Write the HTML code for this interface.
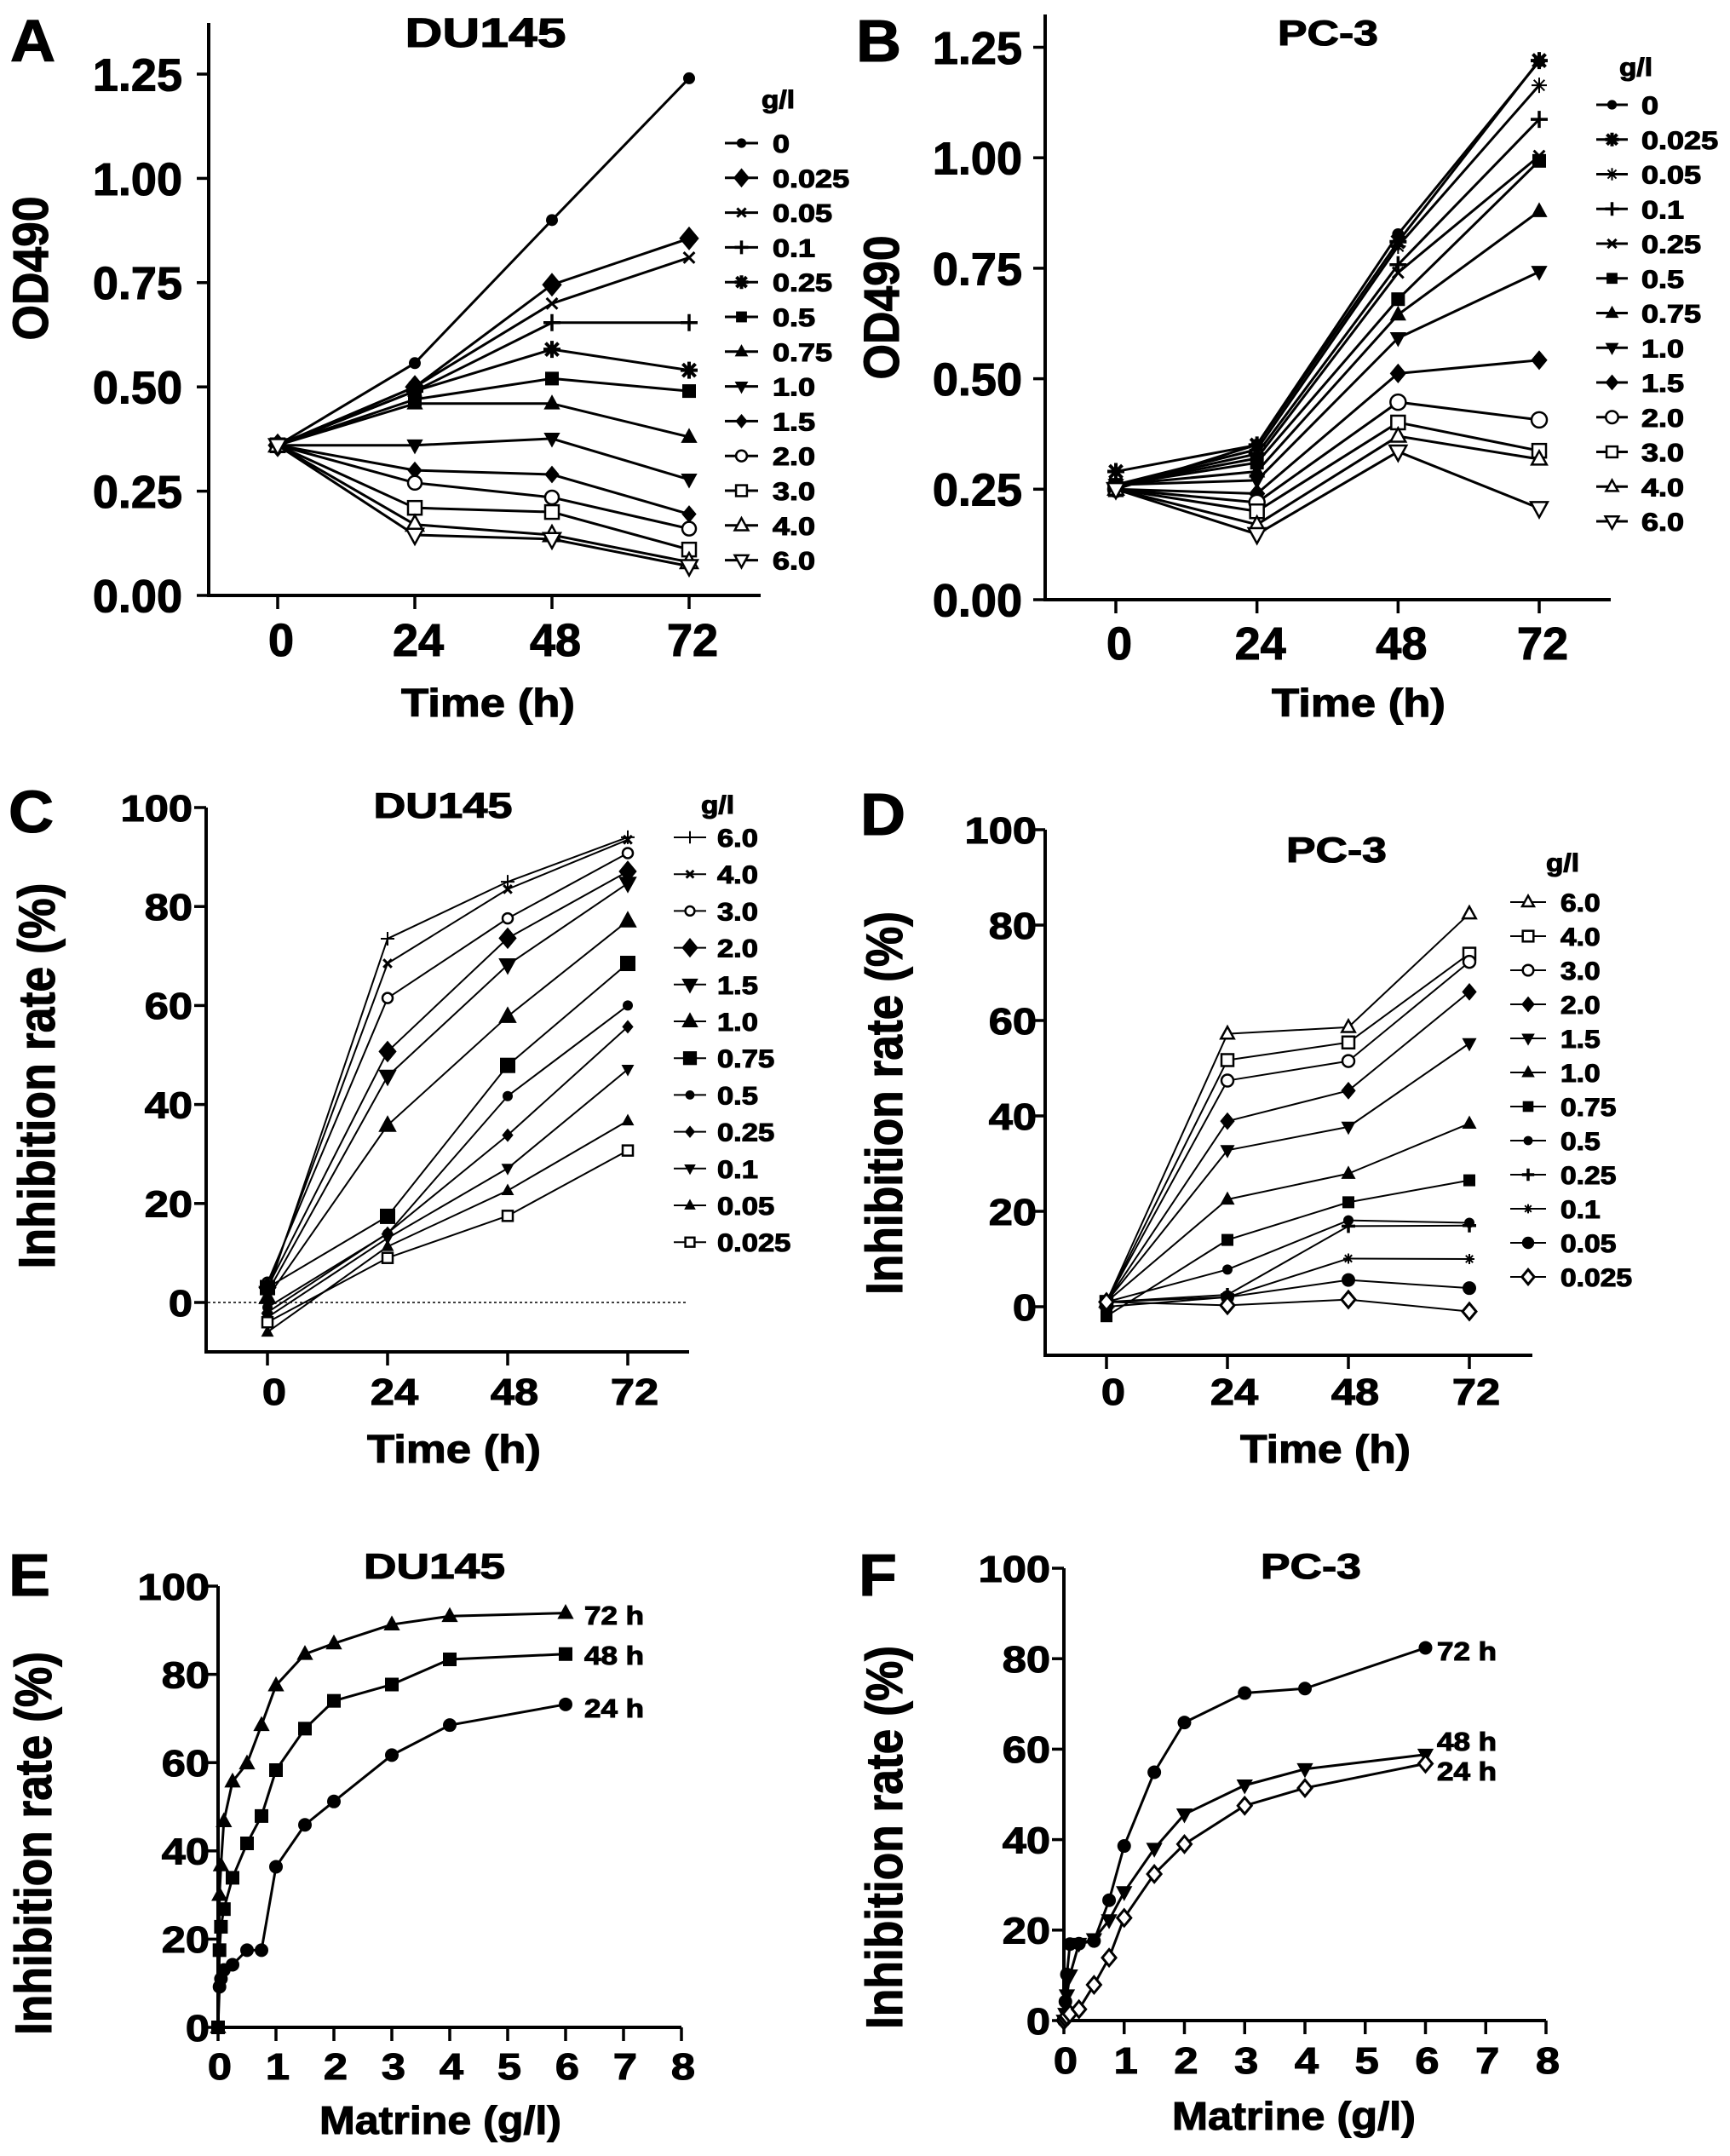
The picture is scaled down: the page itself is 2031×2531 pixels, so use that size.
<!DOCTYPE html>
<html><head><meta charset="utf-8"><style>
html,body{margin:0;padding:0;background:#fff}
svg{display:block;font-family:"Liberation Sans",Arial,sans-serif}
svg text{stroke:#000;stroke-width:1.1px;paint-order:stroke}
</style></head><body>
<svg id="fig" xmlns="http://www.w3.org/2000/svg" width="2031" height="2531" viewBox="0 0 2031 2531">
<rect x="0" y="0" width="2031" height="2531" fill="#fff"/>
</svg>
<script>
// ---------- data ----------
const aTimes = [0, 24, 48, 72];
const aConc = ['0','0.025','0.05','0.1','0.25','0.5','0.75','1.0','1.5','2.0','3.0','4.0','6.0'];
const aOD = [
 [0.36,0.557,0.90,1.24],[0.36,0.50,0.745,0.856],[0.36,0.50,0.70,0.81],[0.36,0.49,0.654,0.654],
 [0.36,0.49,0.59,0.54],[0.36,0.47,0.52,0.49],[0.36,0.46,0.46,0.38],[0.36,0.36,0.376,0.278],
 [0.36,0.30,0.29,0.195],[0.36,0.27,0.235,0.16],[0.36,0.21,0.20,0.11],[0.36,0.17,0.145,0.08],[0.36,0.145,0.135,0.07]];
const aTicks = ['0.00','0.25','0.50','0.75','1.00','1.25'];

const bTimes = [0, 24, 48, 72];
const bConc = ['0','0.025','0.05','0.1','0.25','0.5','0.75','1.0','1.5','2.0','3.0','4.0','6.0'];
const bOD = [
 [0.25,0.351,0.827,1.218],[0.29,0.35,0.81,1.22],[0.26,0.34,0.80,1.164],[0.26,0.33,0.758,1.087],
 [0.26,0.32,0.74,1.004],[0.26,0.31,0.68,0.993],[0.26,0.29,0.645,0.879],[0.26,0.27,0.592,0.742],
 [0.25,0.24,0.512,0.542],[0.25,0.22,0.447,0.407],[0.25,0.20,0.401,0.337],[0.25,0.17,0.37,0.318],[0.25,0.148,0.335,0.207]];
const bTicks = ['0.00','0.25','0.50','0.75','1.00','1.25'];

const cTimes = [0, 24, 48, 72];
const cConc = ['6.0','4.0','3.0','2.0','1.5','1.0','0.75','0.5','0.25','0.1','0.05','0.025'];
const cInh = [
 [2,73.5,85,94],[3,68.5,83.5,93.5],[4,61.5,77.6,90.8],[3,50.7,73.6,87.1],[2,45.7,68.2,84.7],
 [1,35.8,57.8,77.1],[3,17.4,47.9,68.5],[-1,13.9,41.7,60],[-2,14,33.8,55.7],[-3,13,27.1,47.1],
 [-6,11.3,22.6,36.7],[-4,9,17.5,30.7]];
const cTicks = ['0','20','40','60','80','100'];

const dTimes = [0, 24, 48, 72];
const dConc = ['6.0','4.0','3.0','2.0','1.5','1.0','0.75','0.5','0.25','0.1','0.05','0.025'];
const dInh = [
 [1,57.2,58.6,82.4],[1,51.7,55.4,74],[1,47.4,51.5,72.3],[1,38.9,45.3,66],[1,32.8,37.7,55.2],
 [1,22.5,27.9,38.4],[-2,14,21.9,26.5],[1,7.8,18.1,17.6],[1,2.5,16.9,17],[1,2,10.1,10],
 [0,2,5.6,3.9],[1,0.3,1.5,-1]];
const dTicks = ['0','20','40','60','80','100'];

const eDose = [0,0.025,0.05,0.1,0.25,0.5,0.75,1,1.5,2,3,4,6];
const e72 = [0,30,36.7,46.7,55.7,59.8,68.5,77.5,84.6,87,91.3,93.2,93.9];
const e48 = [0,17.5,22.8,26.8,33.9,41.7,47.9,58.3,67.7,74,77.7,83.4,84.6];
const e24 = [0,9.2,11,13,14.2,17.5,17.5,36.4,45.9,51.2,61.7,68.5,73.2];
const eTicks = ['0','20','40','60','80','100'];
const eXTicks = ['0','1','2','3','4','5','6','7','8'];

const fDose = [0,0.025,0.05,0.1,0.25,0.5,0.75,1,1.5,2,3,4,6];
const f72 = [0,4.2,10.2,16.9,17,17.6,26.6,38.6,54.9,65.9,72.4,73.4,82.4];
const f48 = [0,1.5,5.6,10,17,18,22.2,28.4,38,45.6,52,55.6,58.8];
const f24 = [0,0.5,1,1.5,2.5,7.9,13.9,22.7,32.4,39,47.5,51.4,56.8];
const fTicks = ['0','20','40','60','80','100'];
const fXTicks = ['0','1','2','3','4','5','6','7','8'];

// ---------- helpers ----------
const NS = 'http://www.w3.org/2000/svg';
const svg = document.getElementById('fig');
function el(tag, attrs, parent){
  const e = document.createElementNS(NS, tag);
  for (const k in attrs) e.setAttribute(k, attrs[k]);
  (parent || svg).appendChild(e);
  return e;
}
function txt(parent, s, x, y, size, anchor, len, factor, rot){
  const t = el('text', {x:x, y:y, 'font-size':size, 'font-weight':'bold', 'text-anchor':anchor||'start', fill:'#000'}, parent);
  t.textContent = s;
  let L = len;
  if (!L && factor && factor !== 1) { L = t.getComputedTextLength() * factor; }
  if (L) { t.setAttribute('textLength', L); t.setAttribute('lengthAdjust', 'spacingAndGlyphs'); }
  if (rot) t.setAttribute('transform', 'rotate(-90 ' + x + ' ' + y + ')');
  return t;
}
function marker(g, type, x, y, s){
  const m = el('g', {}, g);
  const sw = 2.5;
  if (type === 'circle') el('circle', {cx:x, cy:y, r:s, fill:'#000'}, m);
  else if (type === 'ocircle') el('circle', {cx:x, cy:y, r:s, fill:'#fff', stroke:'#000', 'stroke-width':sw}, m);
  else if (type === 'square') el('rect', {x:x-s, y:y-s, width:2*s, height:2*s, fill:'#000'}, m);
  else if (type === 'osquare') el('rect', {x:x-s, y:y-s, width:2*s, height:2*s, fill:'#fff', stroke:'#000', 'stroke-width':sw}, m);
  else if (type === 'tri' || type === 'otri') {
    el('polygon', {points:[x,y-s*1.2, x-s*1.1,y+s*0.8, x+s*1.1,y+s*0.8].join(','), fill:type==='tri'?'#000':'#fff', stroke:'#000', 'stroke-width':type==='tri'?1:sw}, m);
  } else if (type === 'tridown' || type === 'otridown') {
    el('polygon', {points:[x,y+s*1.2, x-s*1.1,y-s*0.8, x+s*1.1,y-s*0.8].join(','), fill:type==='tridown'?'#000':'#fff', stroke:'#000', 'stroke-width':type==='tridown'?1:sw}, m);
  } else if (type === 'diamond' || type === 'odiamond') {
    el('polygon', {points:[x,y-s*1.2, x+s,y, x,y+s*1.2, x-s,y].join(','), fill:type==='diamond'?'#000':'#fff', stroke:'#000', 'stroke-width':type==='diamond'?1:sw+0.5}, m);
  } else if (type === 'plus') {
    el('path', {d:'M'+(x-s)+' '+y+'H'+(x+s)+'M'+x+' '+(y-s)+'V'+(y+s), stroke:'#000', 'stroke-width':3.5, fill:'none'}, m);
  } else if (type === 'thinplus') {
    el('path', {d:'M'+(x-s)+' '+y+'H'+(x+s)+'M'+x+' '+(y-s)+'V'+(y+s), stroke:'#000', 'stroke-width':2, fill:'none'}, m);
  } else if (type === 'cross') {
    const d = s*0.8;
    el('path', {d:'M'+(x-d)+' '+(y-d)+'L'+(x+d)+' '+(y+d)+'M'+(x-d)+' '+(y+d)+'L'+(x+d)+' '+(y-d), stroke:'#000', 'stroke-width':3, fill:'none'}, m);
  } else if (type === 'star') {
    const d = s*0.75;
    el('path', {d:'M'+(x-s)+' '+y+'H'+(x+s)+'M'+x+' '+(y-s)+'V'+(y+s)+'M'+(x-d)+' '+(y-d)+'L'+(x+d)+' '+(y+d)+'M'+(x-d)+' '+(y+d)+'L'+(x+d)+' '+(y-d), stroke:'#000', 'stroke-width':4, fill:'none'}, m);
    el('circle', {cx:x, cy:y, r:s*0.5, fill:'#000'}, m);
  } else if (type === 'star6') {
    const d = s*0.7;
    el('path', {d:'M'+(x-s)+' '+y+'H'+(x+s)+'M'+x+' '+(y-s)+'V'+(y+s)+'M'+(x-d)+' '+(y-d)+'L'+(x+d)+' '+(y+d)+'M'+(x-d)+' '+(y+d)+'L'+(x+d)+' '+(y-d), stroke:'#000', 'stroke-width':2, fill:'none'}, m);
  }
  return m;
}
function axes(g, G, yTickLabels, yTickVals, xTickLabels, xTickVals, tickFont, tickFactor){
  const yAxis = el('line', {x1:G.ax, y1:G.top, x2:G.ax, y2:G.ay, stroke:'#000', 'stroke-width':4}, g);
  
  
  const xAxis = el('line', {x1:G.ax-2, y1:G.ay, x2:G.xend, y2:G.ay, stroke:'#000', 'stroke-width':4}, g);
  
  
  for (let i = 0; i < yTickLabels.length; i++) {
    const yy = G.sy(yTickVals[i]);
    el('line', {x1:G.ax-14, y1:yy, x2:G.ax, y2:yy, stroke:'#000', 'stroke-width':3.5}, g);
    const t = txt(g, yTickLabels[i], G.ylabR, yy + tickFont*0.36, tickFont, 'end', 0, tickFactor);
    
    
  }
  for (let i = 0; i < xTickLabels.length; i++) {
    const xx = G.sx(xTickVals[i]);
    el('line', {x1:xx, y1:G.ay, x2:xx, y2:G.ay+16, stroke:'#000', 'stroke-width':3.5}, g);
    const t = txt(g, xTickLabels[i], xx + G.xlabDx, G.xlabY, tickFont, 'middle', 0, tickFactor);
    
    
  }
}
function series(g, xs, ys, G, mk, ms, lw, name){
  const sg = el('g', {}, g);
  
  
  const pts = xs.map((xv, i) => G.sx(xv) + ',' + G.sy(ys[i])).join(' ');
  el('polyline', {points:pts, fill:'none', stroke:'#000', 'stroke-width':lw, 'stroke-linejoin':'round'}, sg);
  xs.forEach((xv, i) => {
    const m = marker(sg, mk, G.sx(xv), G.sy(ys[i]), ms);
    
    
  });
}
function legend(g, labels, markers, L){
  const lg = el('g', {}, g);
  
  
  const gt = txt(lg, 'g/l', L.gx, L.gy, 30, 'start', 39);
  
  
  labels.forEach((lab, i) => {
    const y = L.y0 + i * L.step;
    const eg = el('g', {}, lg);
    
    
    el('line', {x1:L.lx1, y1:y, x2:L.lx2, y2:y, stroke:'#000', 'stroke-width':L.lw}, eg);
    marker(eg, markers[i][0], (L.lx1+L.lx2)/2, y, markers[i][1]*L.ms);
    txt(eg, lab, L.tx, y + 11, L.font, 'start', 0, L.factor);
  });
}
function panelLetter(s, x, y){
  const t = txt(svg, s, x, y, 70, 'start', 0, 1.05);
  
  
}
function title(g, s, cx, y, len, size){
  const t = txt(g, s, cx, y, size || 42, 'middle', len);
  
  
}
function xTitle(g, s, cx, y, len){
  const t = txt(g, s, cx, y, 46, 'middle', len);
  
  
}
function yTitle(g, s, x, cy, size, len){
  const t = txt(g, s, x, cy, size, 'middle', len, 0, true);
  
  
}
function panel(name){
  const g = el('g', {}, svg);
  
  
  return g;
}

// ---------- Panel A ----------
(function(){
  const g = panel('panel-a-du145-od');
  const G = {ax:245, ay:699, top:27, xend:893,
    sx: t => 326 + t*(809-326)/72, sy: v => 699 - v*489.6,
    ylabR:214, xlabY:770, xlabDx:4};
  axes(g, G, aTicks, aTicks.map(Number), aTimes.map(String), aTimes, 54, 1);
  const mks = [['circle',7],['diamond',11],['cross',8],['plus',10],['star',10],['square',8],['tri',8],['tridown',8],['diamond',8],['ocircle',8],['osquare',8],['otri',9],['otridown',9]];
  aOD.forEach((row, i) => series(g, aTimes, row, G, mks[i][0], mks[i][1], 3, 'series-' + aConc[i]));
  legend(g, aConc, mks, {gx:894, gy:127, y0:168, step:40.8, lx1:851, lx2:890, tx:907, font:30, factor:1.2, lw:3, ms:0.8});
  title(g, 'DU145', 570, 55, 189, 48);
  xTitle(g, 'Time (h)', 573, 841, 204);
  yTitle(g, 'OD490', 56, 315, 58, 169);
})();
panelLetter('A', 12, 72);

// ---------- Panel B ----------
(function(){
  const g = panel('panel-b-pc3-od');
  const G = {ax:1227, ay:704, top:17, xend:1891,
    sx: t => 1310 + t*(1807-1310)/72, sy: v => 704 - v*518.8,
    ylabR:1200, xlabY:774, xlabDx:4};
  axes(g, G, bTicks, bTicks.map(Number), bTimes.map(String), bTimes, 54, 1);
  const mks = [['circle',7],['star',10],['star6',9],['plus',10],['cross',8],['square',8],['tri',8],['tridown',8],['diamond',9],['ocircle',9],['osquare',8],['otri',8],['otridown',9]];
  bOD.forEach((row, i) => series(g, bTimes, row, G, mks[i][0], mks[i][1], 3, 'series-' + bConc[i]));
  legend(g, bConc, mks, {gx:1901, gy:89, y0:123, step:40.75, lx1:1874, lx2:1911, tx:1927, font:30, factor:1.2, lw:3, ms:0.8});
  title(g, 'PC-3', 1559, 53, 118);
  xTitle(g, 'Time (h)', 1595, 841, 204);
  yTitle(g, 'OD490', 1055, 361, 58, 169);
})();
panelLetter('B', 1005, 72);

// ---------- Panel C ----------
(function(){
  const g = panel('panel-c-du145-inhibition');
  const G = {ax:242, ay:1587, top:948, xend:809,
    sx: t => 314 + t*(737-314)/72, sy: v => 1529 - v*5.81,
    ylabR:226, xlabY:1649, xlabDx:8};
  axes(g, G, cTicks, cTicks.map(Number), cTimes.map(String), cTimes, 44, 1.15);
  const zl = el('line', {x1:244, y1:G.sy(0), x2:807, y2:G.sy(0), stroke:'#000', 'stroke-width':1.5, 'stroke-dasharray':'3,3'}, g);
  
  
  const mks = [['thinplus',8],['cross',6],['ocircle',6],['diamond',10],['tridown',9],['tri',9],['square',9],['circle',6],['diamond',6],['tridown',6],['tri',6],['osquare',6]];
  cInh.forEach((row, i) => series(g, cTimes, row, G, mks[i][0], mks[i][1], 2, 'series-' + cConc[i]));
  legend(g, cConc, mks, {gx:823, gy:955, y0:983, step:43.2, lx1:791, lx2:829, tx:842, font:30, factor:1.15, lw:2, ms:0.9});
  title(g, 'DU145', 520, 960, 163);
  xTitle(g, 'Time (h)', 533, 1717, 204);
  yTitle(g, 'Inhibition rate (%)', 64, 1263, 60, 453);
})();
panelLetter('C', 10, 977);

// ---------- Panel D ----------
(function(){
  const g = panel('panel-d-pc3-inhibition');
  const G = {ax:1227, ay:1591, top:974, xend:1799,
    sx: t => 1299 + t*(1725-1299)/72, sy: v => 1534 - v*5.6,
    ylabR:1217, xlabY:1649, xlabDx:8};
  axes(g, G, dTicks, dTicks.map(Number), dTimes.map(String), dTimes, 44, 1.15);
  const mks = [['otri',7],['osquare',7],['ocircle',7],['diamond',8],['tridown',7],['tri',7],['square',7],['circle',6],['plus',8],['star6',6],['circle',8],['odiamond',8]];
  dInh.forEach((row, i) => series(g, dTimes, row, G, mks[i][0], mks[i][1], 2, 'series-' + dConc[i]));
  legend(g, dConc, mks, {gx:1815, gy:1023, y0:1059, step:40, lx1:1773, lx2:1815, tx:1832, font:30, factor:1.12, lw:2, ms:0.9});
  title(g, 'PC-3', 1569, 1012, 118);
  xTitle(g, 'Time (h)', 1556, 1717, 200);
  yTitle(g, 'Inhibition rate (%)', 1059, 1295, 60, 450);
})();
panelLetter('D', 1010, 980);

// ---------- Panel E ----------
(function(){
  const g = panel('panel-e-du145-dose');
  const G = {ax:256, ay:2380, top:1862, xend:800,
    sx: c => 256 + c*68, sy: v => 2380 - v*5.18,
    ylabR:246, xlabY:2441, xlabDx:2};
  axes(g, G, eTicks, eTicks.map(Number), eXTicks, eXTicks.map(Number), 44, 1.15);
  series(g, eDose, e72, G, 'tri', 8, 3, 'series-72h');
  series(g, eDose, e48, G, 'square', 8, 3, 'series-48h');
  series(g, eDose, e24, G, 'circle', 8, 3, 'series-24h');
  [['72 h',1907],['48 h',1954],['24 h',2016]].forEach(p => {
    const t = txt(g, p[0], 686, p[1], 31, 'start', 70);
    
    
  });
  title(g, 'DU145', 510, 1853, 166);
  xTitle(g, 'Matrine (g/l)', 517, 2505, 284);
  yTitle(g, 'Inhibition rate (%)', 60, 2164, 60, 450);
})();
panelLetter('E', 10, 1873);

// ---------- Panel F ----------
(function(){
  const g = panel('panel-f-pc3-dose');
  const G = {ax:1249, ay:2372, top:1841, xend:1815,
    sx: c => 1249 + c*70.75, sy: v => 2372 - v*5.31,
    ylabR:1233, xlabY:2434, xlabDx:2};
  axes(g, G, fTicks, fTicks.map(Number), fXTicks, fXTicks.map(Number), 44, 1.15);
  series(g, fDose, f72, G, 'circle', 8, 3, 'series-72h');
  series(g, fDose, f48, G, 'tridown', 8, 3, 'series-48h');
  series(g, fDose, f24, G, 'odiamond', 8, 3, 'series-24h');
  [['72 h',1687,1949],['48 h',1687,2055],['24 h',1687,2090]].forEach(p => {
    const t = txt(g, p[0], p[1], p[2], 31, 'start', 70);
    
    
  });
  title(g, 'PC-3', 1539, 1853, 118);
  xTitle(g, 'Matrine (g/l)', 1519, 2500, 286);
  yTitle(g, 'Inhibition rate (%)', 1059, 2157, 60, 450);
})();
panelLetter('F', 1008, 1873);
</script>
</body></html>
